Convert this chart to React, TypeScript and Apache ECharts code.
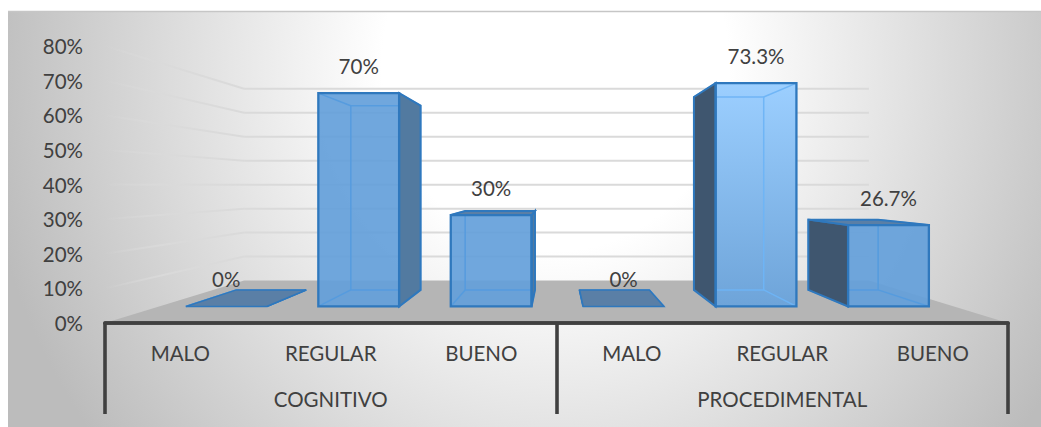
import React, { useEffect, useRef } from "react";
import * as echarts from "echarts";

const levels = ["MALO", "REGULAR", "BUENO", "MALO", "REGULAR", "BUENO"];
const groups = ["COGNITIVO", "PROCEDIMENTAL"];
const percentages = [0, 70, 30, 0, 73.3, 26.7];
const wallTicks = [10, 20, 30, 40, 50, 60, 70, 80];

// Depth of each plane, as a scale towards the vanishing point.
const WALL_DEPTH = 0.692;
const FRONT_DEPTH = 0.88;
const BACK_DEPTH = 0.76;
const BAR_RATIO = 0.61;
const BAR_NUDGE = 1;
const HIGHLIGHTED = 4;

const FONT_SIZE = 20.5;
const FAMILY = 'Lato, "Noto Sans", sans-serif';
const FONT = `${FONT_SIZE}px ${FAMILY}`;
const INK = "#404040";
const EDGE = "#2f78bd";
const AXIS_WIDTH = 3.6;

const projector = (params: any) => {
  const c = params.coordSys;
  const vx = c.x + c.width / 2;
  const vy = c.y + c.height * 0.502;
  return (p: number[], depth: number) => [vx + depth * (p[0] - vx), vy + depth * (p[1] - vy)];
};

const renderFloor = (params: any, api: any) => {
  const project = projector(params);
  const band = api.size([1, 0])[0];
  const left = [api.coord([0, 0])[0] - band / 2, api.coord([0, 0])[1]];
  const right = [api.coord([5, 0])[0] + band / 2, api.coord([0, 0])[1]];
  return {
    type: "polygon",
    silent: true,
    shape: { points: [left, project(left, WALL_DEPTH), project(right, WALL_DEPTH), right] },
    style: { fill: "#b5b5b5" },
  };
};

const renderWallLine = (params: any, api: any) => {
  const project = projector(params);
  const band = api.size([1, 0])[0];
  const value = api.value(1);
  const y = api.coord([0, value])[1];
  const left = [api.coord([0, 0])[0] - band / 2, y];
  const right = [api.coord([5, 0])[0] + band / 2, y];
  const corner = project(left, WALL_DEPTH);
  const end = project(right, WALL_DEPTH);
  return {
    type: "group",
    silent: true,
    children: [
      {
        type: "polyline",
        shape: { points: [left, corner] },
        style: {
          fill: "none",
          lineWidth: 2,
          // The side wall's lines die away towards the chart's front edge.
          stroke: new echarts.graphic.LinearGradient(
            left[0],
            0,
            corner[0],
            0,
            [
              { offset: 0, color: "rgba(218,218,218,0)" },
              { offset: 0.4, color: "rgba(218,218,218,0.9)" },
              { offset: 1, color: "rgba(218,218,218,1)" },
            ],
            true,
          ),
        },
      },
      {
        type: "polyline",
        shape: { points: [corner, end] },
        style: { fill: "none", stroke: "#dadada", lineWidth: 2 },
      },
    ],
  };
};

const renderBar = (params: any, api: any) => {
  const project = projector(params);
  const index = api.value(0);
  const value = api.value(1);
  const half = (api.size([1, 0])[0] * BAR_RATIO) / 2;
  const cx = api.coord([index, 0])[0] + BAR_NUDGE;
  const y0 = api.coord([index, 0])[1];
  const y1 = api.coord([index, value])[1];
  const corners = (depth: number) => ({
    tl: project([cx - half, y1], depth),
    tr: project([cx + half, y1], depth),
    br: project([cx + half, y0], depth),
    bl: project([cx - half, y0], depth),
  });
  const f = corners(FRONT_DEPTH);
  const b = corners(BACK_DEPTH);
  const lit = index === HIGHLIGHTED;
  const face = lit
    ? new echarts.graphic.LinearGradient(0, 0, 0, 1, [
        { offset: 0, color: "#9ccfff" },
        { offset: 1, color: "#6ea4d9" },
      ])
    : "rgba(100,160,218,0.92)";
  const inner = {
    fill: "none",
    stroke: lit ? "rgba(110,180,245,0.95)" : "rgba(84,155,222,0.95)",
    lineWidth: 1.5,
  };
  const shownLeft = f.tl[0] > b.tl[0];
  const side = shownLeft ? [f.tl, b.tl, b.bl, f.bl] : [f.tr, b.tr, b.br, f.br];
  const children: any[] = [
    { type: "polygon", shape: { points: [f.tl, f.tr, f.br, f.bl] }, style: { fill: face } },
    { type: "polygon", shape: { points: [b.tl, b.tr, b.br, b.bl] }, style: inner },
    { type: "polyline", shape: { points: [f.tl, b.tl] }, style: inner },
    { type: "polyline", shape: { points: [f.tr, b.tr] }, style: inner },
    { type: "polyline", shape: { points: [f.br, b.br] }, style: inner },
    { type: "polyline", shape: { points: [f.bl, b.bl] }, style: inner },
    {
      type: "polygon",
      shape: { points: side },
      style: {
        fill: shownLeft ? "#3f566f" : "#527aa0",
        stroke: EDGE,
        lineWidth: 2,
      },
    },
  ];
  // The lid only shows when it sits below the horizon.
  if (b.tl[1] < f.tl[1]) {
    children.push({
      type: "polygon",
      shape: { points: [f.tl, f.tr, b.tr, b.tl] },
      style: { fill: "#5a7fa6", stroke: EDGE, lineWidth: value === 0 ? 1.5 : 2 },
    });
  }
  if (value !== 0) {
    children.push({
      type: "polygon",
      shape: { points: [f.tl, f.tr, f.br, f.bl] },
      style: { fill: "none", stroke: EDGE, lineWidth: 2.3 },
    });
  }
  children.push({
    type: "text",
    style: {
      text: `${value}%`,
      x: (f.tl[0] + f.tr[0]) / 2,
      y: f.tl[1] - 27,
      align: "center",
      verticalAlign: "middle",
      font: FONT,
      fill: INK,
    },
  });
  return { type: "group", silent: true, children };
};

export default function App() {
  const ref = useRef<HTMLDivElement>(null);

  useEffect(() => {
    const chart = echarts.init(ref.current!, undefined, { renderer: "svg" });
    chart.setOption({
      animation: false,
      backgroundColor: "#ffffff",
      grid: { left: 105, right: 33, top: 46, bottom: 104 },
      graphic: [
        {
          type: "rect",
          silent: true,
          z: -10,
          shape: { x: 8, y: 11, width: 1033, height: 1100 },
          style: {
            fill: new echarts.graphic.RadialGradient(0.53, 0.05, 0.56, [
              { offset: 0, color: "#ffffff" },
              { offset: 0.3, color: "#ffffff" },
              { offset: 1, color: "#bcbcbc" },
            ]),
          },
        },
        {
          type: "polyline",
          silent: true,
          z: -9,
          shape: { points: [[8, 11.5], [1041, 11.5]] },
          style: { fill: "none", stroke: "#c6c6c6", lineWidth: 1.5 },
        },
      ],
      xAxis: [
        {
          type: "category",
          z: 10,
          data: levels,
          axisLine: { show: true, lineStyle: { color: INK, width: AXIS_WIDTH } },
          axisTick: { show: false },
          axisLabel: {
            interval: 0,
            margin: 19,
            color: INK,
            fontFamily: FAMILY,
            fontSize: FONT_SIZE,
          },
        },
        {
          type: "category",
          position: "bottom",
          z: 10,
          data: groups,
          axisLine: { show: true, lineStyle: { color: INK, width: AXIS_WIDTH } },
          axisTick: {
            show: true,
            interval: 0,
            alignWithLabel: false,
            length: 91,
            lineStyle: { color: INK, width: AXIS_WIDTH },
          },
          axisLabel: {
            interval: 0,
            margin: 65,
            color: INK,
            fontFamily: FAMILY,
            fontSize: FONT_SIZE,
          },
        },
      ],
      yAxis: {
        type: "value",
        min: 0,
        max: 80,
        interval: 10,
        axisLine: { show: false },
        axisTick: { show: false },
        splitLine: { show: false },
        axisLabel: {
          formatter: "{value}%",
          margin: 22,
          color: INK,
          fontFamily: FAMILY,
          fontSize: FONT_SIZE,
        },
      },
      series: [
        {
          type: "custom",
          renderItem: renderWallLine,
          data: wallTicks.map((t) => [0, t]),
          encode: { x: 0, y: 1 },
          z: 1,
        },
        {
          type: "custom",
          renderItem: renderFloor,
          data: [[0, 0]],
          encode: { x: 0, y: 1 },
          z: 2,
        },
        {
          type: "custom",
          renderItem: renderBar,
          data: percentages.map((v, i) => [i, v]),
          encode: { x: 0, y: 1 },
          z: 3,
        },
      ],
    });
    return () => chart.dispose();
  }, []);

  return (
    <div
      ref={ref}
      style={{ position: "absolute", left: 0, top: 0, width: 1041, height: 427 }}
    />
  );
}
